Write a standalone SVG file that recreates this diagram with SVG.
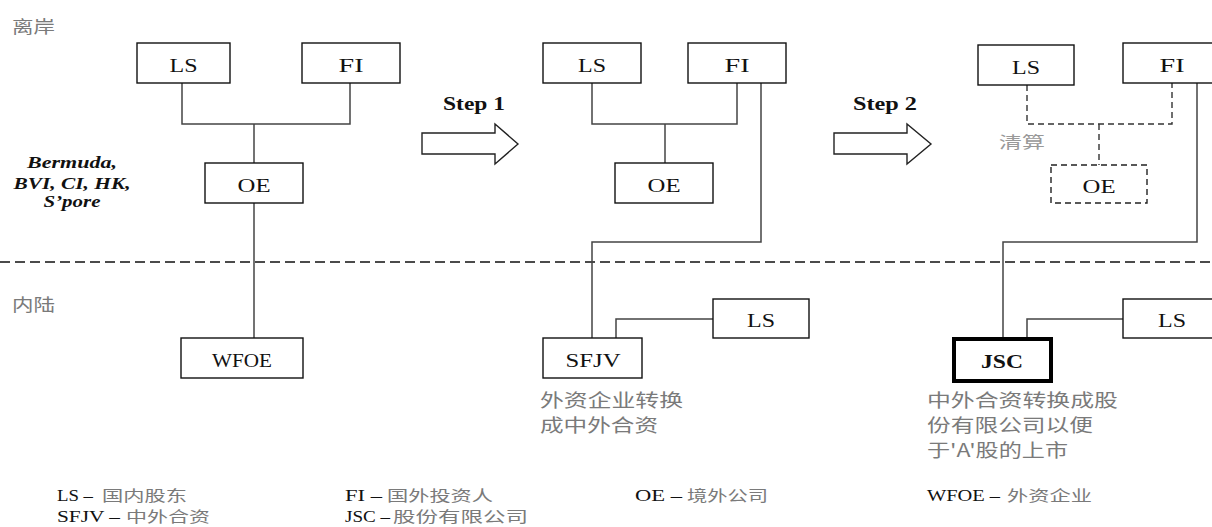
<svg xmlns="http://www.w3.org/2000/svg" width="1212" height="527" viewBox="0 0 1212 527">
<style>
.box{fill:#fff;stroke:#111;stroke-width:1.4}
.dbox{fill:#fff;stroke:#222;stroke-width:1.4;stroke-dasharray:6,4}
.thick{fill:#fff;stroke:#000;stroke-width:4}
.lbl{font-family:"Liberation Serif","Times New Roman",serif;font-size:19px;fill:#111;text-anchor:middle}
.bold{font-weight:bold}
.con{fill:none;stroke:#444;stroke-width:1.5}
.dcon{fill:none;stroke:#333;stroke-width:1.4;stroke-dasharray:6,4}
.cjk{font-family:"Noto Sans CJK SC",sans-serif;fill:#7a7a7a}
.leg{font-family:"Liberation Serif","Times New Roman",serif;font-size:16px;fill:#111}
.arrow{fill:#fff;stroke:#222;stroke-width:1.4}
</style>
<rect width="1212" height="527" fill="#fff"/>
<!-- region labels -->
<text class="cjk" x="12" y="33" font-size="17" textLength="43" lengthAdjust="spacingAndGlyphs">离岸</text>
<text class="cjk" x="12" y="311" font-size="17" textLength="43" lengthAdjust="spacingAndGlyphs">内陆</text>
<g font-family="'Liberation Serif','Times New Roman',serif" font-size="17" font-weight="bold" font-style="italic" fill="#111" text-anchor="middle">
<text x="72" y="168" textLength="90" lengthAdjust="spacingAndGlyphs">Bermuda,</text>
<text x="72" y="189" textLength="117" lengthAdjust="spacingAndGlyphs">BVI, CI, HK,</text>
<text x="72" y="207" textLength="57" lengthAdjust="spacingAndGlyphs">S’pore</text>
</g>
<!-- divider -->
<line x1="0" y1="262" x2="1212" y2="262" stroke="#111" stroke-width="1.4" stroke-dasharray="10,5"/>
<!-- connectors -->
<g id="connectors">
<polyline class="con" points="182,83 182,124 350,124 350,83"/>
<line class="con" x1="254" y1="124" x2="254" y2="163"/>
<line class="con" x1="254" y1="203" x2="254" y2="338"/>
<polyline class="con" points="592,83 592,124 737,124 737,83"/>
<line class="con" x1="665" y1="124" x2="665" y2="163"/>
<polyline class="con" points="761,83 761,242 592,242 592,338"/>
<polyline class="con" points="616,338 616,319 713,319"/>
<polyline class="dcon" points="1027,85 1027,124 1172,124 1172,83"/>
<line class="dcon" x1="1099" y1="124" x2="1099" y2="165"/>
<polyline class="con" points="1197,83 1197,242 1003,242 1003,337"/>
<polyline class="con" points="1027,337 1027,319 1123,319"/>
</g>
<!-- step arrows -->
<g id="step1">
<text class="lbl bold" x="474" y="110" textLength="62" lengthAdjust="spacingAndGlyphs">Step 1</text>
<polygon class="arrow" points="422,133 495,133 495,124 518,144 495,164 495,154 422,154"/>
</g>
<g id="step2">
<text class="lbl bold" x="885" y="110" textLength="64" lengthAdjust="spacingAndGlyphs">Step 2</text>
<polygon class="arrow" points="834,133 907,133 907,124 931,144 907,164 907,154 834,154"/>
</g>
<!-- panel 1 -->
<g id="p1-ls"><rect class="box" x="137" y="43" width="93" height="40"/><text class="lbl" x="183.5" y="72" textLength="28" lengthAdjust="spacingAndGlyphs">LS</text></g>
<g id="p1-fi"><rect class="box" x="302" y="43" width="98" height="40"/><text class="lbl" x="351" y="72" textLength="25" lengthAdjust="spacingAndGlyphs">FI</text></g>
<g id="p1-oe"><rect class="box" x="205" y="163" width="98" height="40"/><text class="lbl" x="254" y="192" textLength="33" lengthAdjust="spacingAndGlyphs">OE</text></g>
<g id="p1-wfoe"><rect class="box" x="181" y="338" width="122" height="40"/><text class="lbl" x="242" y="367" textLength="60" lengthAdjust="spacingAndGlyphs">WFOE</text></g>
<!-- panel 2 -->
<g id="p2-ls"><rect class="box" x="543" y="43" width="98" height="40"/><text class="lbl" x="592" y="72" textLength="28" lengthAdjust="spacingAndGlyphs">LS</text></g>
<g id="p2-fi"><rect class="box" x="688" y="43" width="98" height="40"/><text class="lbl" x="737" y="72" textLength="25" lengthAdjust="spacingAndGlyphs">FI</text></g>
<g id="p2-oe"><rect class="box" x="615" y="163" width="98" height="40"/><text class="lbl" x="664" y="192" textLength="33" lengthAdjust="spacingAndGlyphs">OE</text></g>
<g id="p2-sfjv"><rect class="box" x="543" y="338" width="99" height="40"/><text class="lbl" x="593" y="367" textLength="55" lengthAdjust="spacingAndGlyphs">SFJV</text>
<text class="cjk" x="540" y="407" font-size="18" textLength="143" lengthAdjust="spacingAndGlyphs">外资企业转换</text>
<text class="cjk" x="540" y="432" font-size="18" textLength="118" lengthAdjust="spacingAndGlyphs">成中外合资</text></g>
<g id="p2-ls2"><rect class="box" x="713" y="299" width="96" height="39"/><text class="lbl" x="761" y="327" textLength="28" lengthAdjust="spacingAndGlyphs">LS</text></g>
<!-- panel 3 -->
<g id="p3-ls"><rect class="box" x="978" y="45" width="96" height="40"/><text class="lbl" x="1026" y="74" textLength="28" lengthAdjust="spacingAndGlyphs">LS</text>
<text class="cjk" x="999" y="148" font-size="16" style="fill:#999" textLength="46" lengthAdjust="spacingAndGlyphs">清算</text></g>
<g id="p3-fi"><rect class="box" x="1123" y="43" width="100" height="40"/><text class="lbl" x="1172" y="72" textLength="25" lengthAdjust="spacingAndGlyphs">FI</text></g>
<g id="p3-oe"><rect class="dbox" x="1051" y="165" width="96" height="38"/><text class="lbl" x="1099" y="193" textLength="33" lengthAdjust="spacingAndGlyphs">OE</text></g>
<g id="p3-jsc"><rect class="thick" x="954" y="339" width="97" height="42"/><text class="lbl bold" x="1002" y="368" textLength="42" lengthAdjust="spacingAndGlyphs">JSC</text>
<text class="cjk" x="927" y="407" font-size="18" textLength="191" lengthAdjust="spacingAndGlyphs">中外合资转换成股</text>
<text class="cjk" x="927" y="432" font-size="18" textLength="166" lengthAdjust="spacingAndGlyphs">份有限公司以便</text>
<text class="cjk" x="927" y="457" font-size="18" textLength="141" lengthAdjust="spacingAndGlyphs">于'A'股的上市</text></g>
<g id="p3-ls2"><rect class="box" x="1123" y="299" width="100" height="39"/><text class="lbl" x="1172" y="327" textLength="28" lengthAdjust="spacingAndGlyphs">LS</text></g>
<!-- legend -->
<g id="legend">
<text class="leg" x="57" y="501" textLength="36" lengthAdjust="spacingAndGlyphs">LS –</text>
<text class="cjk" x="102" y="501" font-size="15" textLength="85" lengthAdjust="spacingAndGlyphs">国内股东</text>
<text class="leg" x="57" y="522" textLength="63" lengthAdjust="spacingAndGlyphs">SFJV –</text>
<text class="cjk" x="126" y="522" font-size="15" textLength="84" lengthAdjust="spacingAndGlyphs">中外合资</text>
<text class="leg" x="345" y="501" textLength="37" lengthAdjust="spacingAndGlyphs">FI –</text>
<text class="cjk" x="387" y="501" font-size="15" textLength="106" lengthAdjust="spacingAndGlyphs">国外投资人</text>
<text class="leg" x="345" y="522" textLength="45" lengthAdjust="spacingAndGlyphs">JSC –</text>
<text class="cjk" x="393" y="522" font-size="15" textLength="135" lengthAdjust="spacingAndGlyphs">股份有限公司</text>
<text class="leg" x="635" y="501" textLength="47" lengthAdjust="spacingAndGlyphs">OE –</text>
<text class="cjk" x="687" y="501" font-size="15" textLength="81" lengthAdjust="spacingAndGlyphs">境外公司</text>
<text class="leg" x="927" y="501" textLength="73" lengthAdjust="spacingAndGlyphs">WFOE –</text>
<text class="cjk" x="1007" y="501" font-size="15" textLength="85" lengthAdjust="spacingAndGlyphs">外资企业</text>
</g>
</svg>
